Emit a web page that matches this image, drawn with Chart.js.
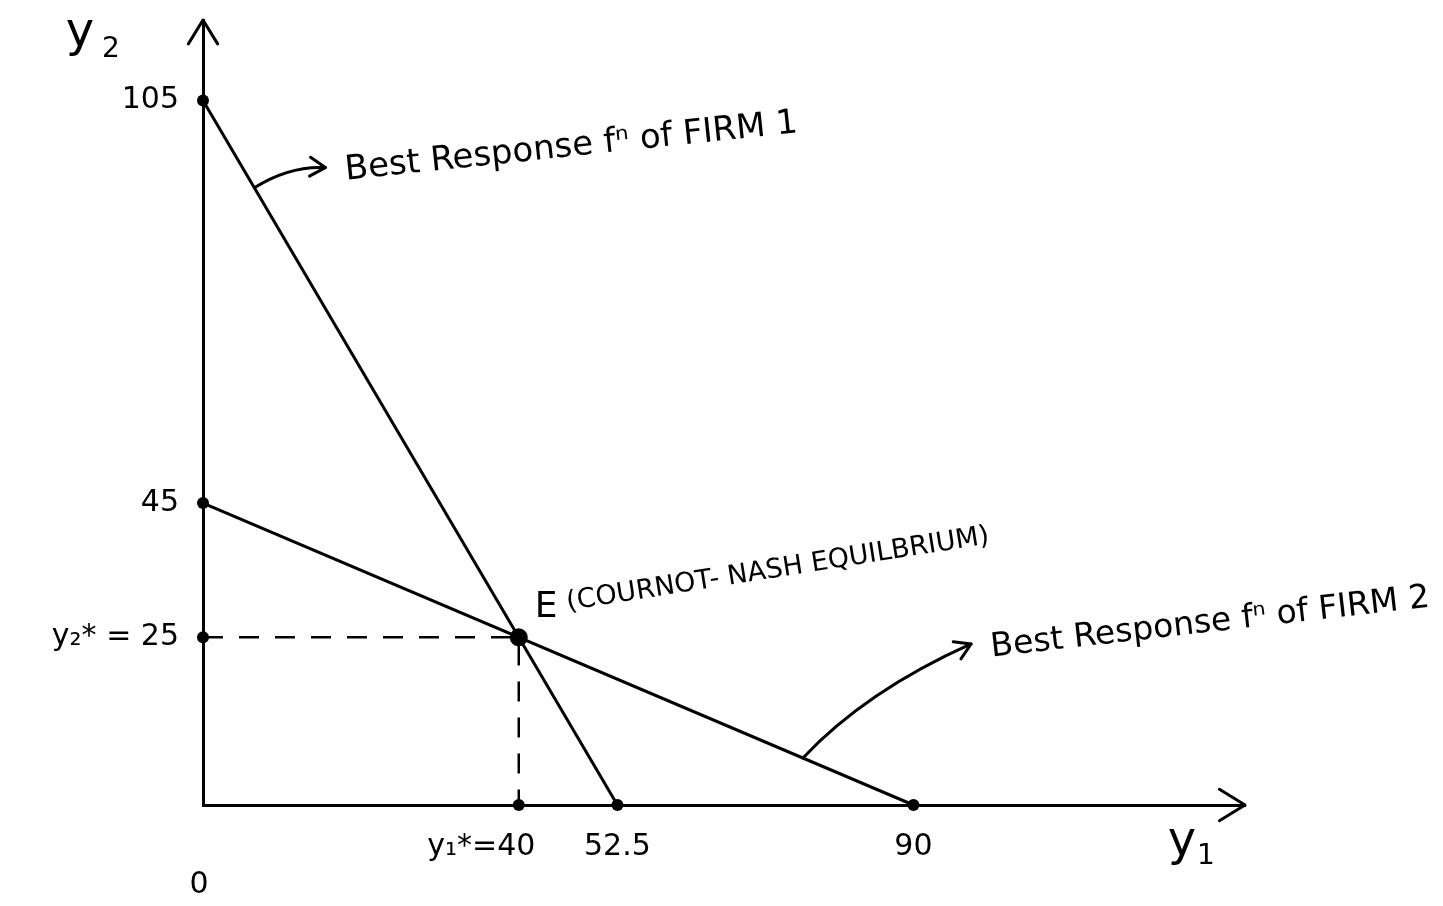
<!DOCTYPE html>
<html>
<head>
<meta charset="utf-8">
<title>Cournot-Nash equilibrium</title>
<script src="https://cdn.jsdelivr.net/npm/chart.js@4/dist/chart.umd.min.js"></script>
<style>
  html, body { margin: 0; padding: 0; background: #fff; }
  #wrap { width: 1443px; height: 906px; }
</style>
</head>
<body>
<div id="wrap"><canvas id="cournot-chart"></canvas></div>
<script>
// best response functions (y1 along x, y2 along y)
var firm1X = [0, 52.5];
var firm1Y = [105, 0];
var firm2X = [0, 90];
var firm2Y = [45, 0];

// equilibrium E and the dashed guides down to the axes
var eqX = [40];
var eqY = [25];
var guideX = [0, 40, 40];
var guideY = [25, 25, 0];

// intercept dots
var dotX = [0, 0, 0, 40, 52.5, 90];
var dotY = [105, 45, 25, 0, 0, 0];

var xTicks = [40, 52.5, 90];
var xTickLabels = ['y\u2081*=40', '52.5', '90'];
var yTicks = [25, 45, 105];
var yTickLabels = ['y\u2082* = 25', '45', '105'];

var xMax = 132;
var yMax = 117;

var FONT = 'DejaVu Sans';

function pairs(xs, ys) {
  return xs.map(function (x, i) { return { x: x, y: ys[i] }; });
}

function chevron(ctx, x, y, ang, len) {
  var s = 0.55;
  ctx.beginPath();
  ctx.moveTo(x - len * Math.cos(ang - s), y - len * Math.sin(ang - s));
  ctx.lineTo(x, y);
  ctx.lineTo(x - len * Math.cos(ang + s), y - len * Math.sin(ang + s));
  ctx.stroke();
}

function curvedArrow(ctx, x0, y0, cx, cy, x1, y1) {
  ctx.beginPath();
  ctx.moveTo(x0, y0);
  ctx.quadraticCurveTo(cx, cy, x1, y1);
  ctx.stroke();
  chevron(ctx, x1, y1, Math.atan2(y1 - cy, x1 - cx), 18);
}

function tilted(ctx, txt, x, y, deg, size) {
  ctx.save();
  ctx.translate(x, y);
  ctx.rotate(deg * Math.PI / 180);
  ctx.font = size + 'px "' + FONT + '"';
  ctx.textAlign = 'left';
  ctx.textBaseline = 'middle';
  ctx.fillText(txt, 0, 0);
  ctx.restore();
}

// arrows on the axes, labels and the hand-written notes
var sketch = {
  id: 'sketch',
  afterDraw: function (chart) {
    var ctx = chart.ctx, a = chart.chartArea;
    var xs = chart.scales.x, ys = chart.scales.y;
    var px = function (v) { return xs.getPixelForValue(v); };
    var py = function (v) { return ys.getPixelForValue(v); };

    ctx.save();
    ctx.strokeStyle = '#000';
    ctx.fillStyle = '#000';
    ctx.lineWidth = 3;
    ctx.lineCap = 'round';
    ctx.lineJoin = 'round';

    chevron(ctx, a.left, a.top, -Math.PI / 2, 28);
    chevron(ctx, a.right, a.bottom, 0, 30);

    // axis names
    ctx.textAlign = 'center';
    ctx.textBaseline = 'middle';
    ctx.font = '48px "' + FONT + '"';
    ctx.fillText('y', a.left - 123, a.top + 14);
    ctx.fillText('y', px(124), py(0) + 38);
    ctx.font = '28px "' + FONT + '"';
    ctx.fillText('2', a.left - 92, a.top + 30);
    ctx.fillText('1', px(124) + 24, py(0) + 52);
    ctx.font = '30px "' + FONT + '"';
    ctx.fillText('0', px(0) - 4, py(0) + 80);

    // firm 1 note
    var x0 = px(6.5), y0 = py(92), x1 = px(15.5), y1 = py(95);
    curvedArrow(ctx, x0, y0, (x0 + x1) / 2, y1 - 2, x1, y1);
    tilted(ctx, 'Best Response f\u207F of FIRM 1', px(18), py(94.5), -6, 34);

    // equilibrium note
    var ex = px(eqX[0]), ey = py(eqY[0]);
    tilted(ctx, 'E', ex + 16, ey - 30, 0, 36);
    tilted(ctx, '(COURNOT- NASH EQUILBRIUM)', ex + 48, ey - 34, -9, 27);

    // firm 2 note
    x0 = px(76); y0 = py(7); x1 = px(97.3); y1 = py(24);
    curvedArrow(ctx, x0, y0, px(84), py(17), x1, y1);
    tilted(ctx, 'Best Response f\u207F of FIRM 2', px(99.8), py(23.4), -6.5, 33);

    ctx.restore();
  }
};

var ctx = document.getElementById('cournot-chart').getContext('2d');

new Chart(ctx, {
  type: 'scatter',
  data: {
    datasets: [{
      label: 'E',
      data: pairs(eqX, eqY),
      pointRadius: 9,
      pointBackgroundColor: '#000',
      pointBorderWidth: 0,
      clip: false
    }, {
      label: 'intercepts',
      data: pairs(dotX, dotY),
      pointRadius: 6,
      pointBackgroundColor: '#000',
      pointBorderWidth: 0,
      clip: false
    }, {
      label: 'Best Response of Firm 1',
      data: pairs(firm1X, firm1Y),
      showLine: true,
      borderColor: '#000',
      borderWidth: 3,
      pointRadius: 0,
      clip: false
    }, {
      label: 'Best Response of Firm 2',
      data: pairs(firm2X, firm2Y),
      showLine: true,
      borderColor: '#000',
      borderWidth: 3,
      pointRadius: 0,
      clip: false
    }, {
      label: 'guides',
      data: pairs(guideX, guideY),
      showLine: true,
      borderColor: '#000',
      borderWidth: 2.5,
      borderDash: [20, 16],
      pointRadius: 0,
      clip: false
    }]
  },
  options: {
    responsive: true,
    maintainAspectRatio: false,
    animation: false,
    layout: { padding: { top: 20, right: 198, left: 0, bottom: 0 } },
    plugins: {
      legend: { display: false },
      tooltip: { enabled: false }
    },
    scales: {
      x: {
        type: 'linear',
        min: 0,
        max: xMax,
        afterFit: function (s) {
          s.height = 101;
          s.paddingLeft = 0;
          s.paddingRight = 0;
        },
        afterBuildTicks: function (s) {
          s.ticks = xTicks.map(function (v) { return { value: v }; });
        },
        grid: { display: false, drawTicks: false },
        border: { display: true, color: '#000', width: 3 },
        ticks: {
          color: '#000',
          padding: 24,
          autoSkip: false,
          maxRotation: 0,
          font: { family: FONT, size: 30 },
          // the first label sits left of its tick, as in the sketch
          callback: function (v, i) {
            return i === 0 ? xTickLabels[i] + '\u2003\u2003\u2002' : xTickLabels[i];
          }
        }
      },
      y: {
        type: 'linear',
        min: 0,
        max: yMax,
        afterFit: function (s) {
          s.width = 203;
          s.paddingTop = 0;
          s.paddingBottom = 0;
        },
        afterBuildTicks: function (s) {
          s.ticks = yTicks.map(function (v) { return { value: v }; });
        },
        grid: { display: false, drawTicks: false },
        border: { display: true, color: '#000', width: 3 },
        ticks: {
          color: '#000',
          padding: 24,
          autoSkip: false,
          font: { family: FONT, size: 30 },
          callback: function (v, i) { return yTickLabels[i]; }
        }
      }
    }
  },
  plugins: [sketch]
});
</script>
</body>
</html>
